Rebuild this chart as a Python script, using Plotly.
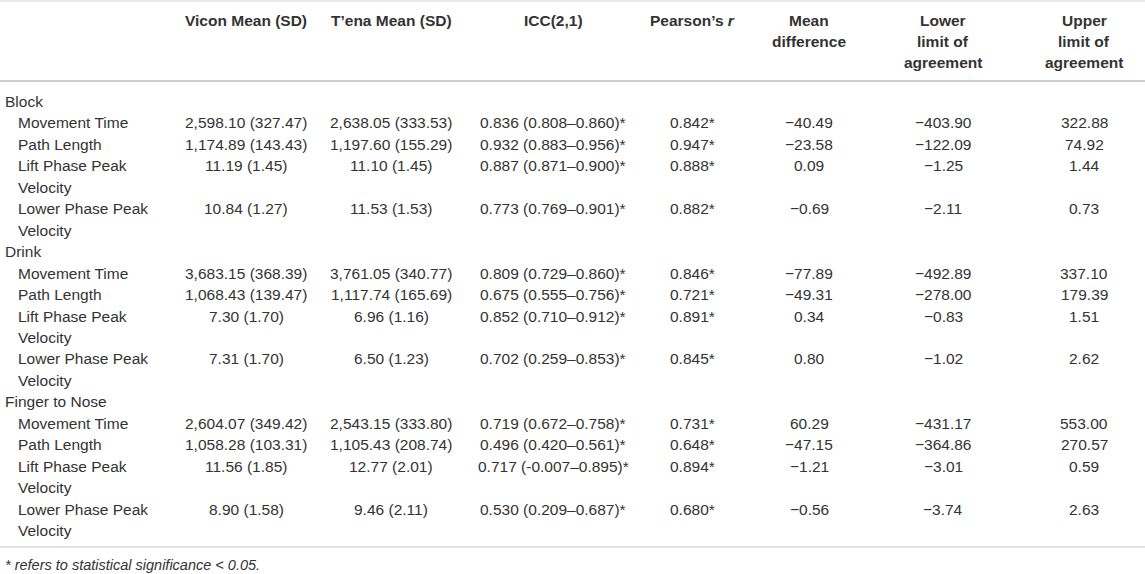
import plotly.graph_objects as go

# ---- table data ----
tasks = ["Block", "Drink", "Finger to Nose"]
measures = ["Movement Time", "Path Length", "Lift Phase Peak Velocity", "Lower Phase Peak Velocity"]

headers = ["Vicon Mean (SD)", "T\u2019ena Mean (SD)", "ICC(2,1)", "Pearson\u2019s <i>r</i>",
           "Mean<br>difference", "Lower<br>limit of<br>agreement", "Upper<br>limit of<br>agreement"]

vicon = ["2,598.10 (327.47)", "1,174.89 (143.43)", "11.19 (1.45)", "10.84 (1.27)",
         "3,683.15 (368.39)", "1,068.43 (139.47)", "7.30 (1.70)", "7.31 (1.70)",
         "2,604.07 (349.42)", "1,058.28 (103.31)", "11.56 (1.85)", "8.90 (1.58)"]
tena = ["2,638.05 (333.53)", "1,197.60 (155.29)", "11.10 (1.45)", "11.53 (1.53)",
        "3,761.05 (340.77)", "1,117.74 (165.69)", "6.96 (1.16)", "6.50 (1.23)",
        "2,543.15 (333.80)", "1,105.43 (208.74)", "12.77 (2.01)", "9.46 (2.11)"]
icc = ["0.836 (0.808\u20130.860)*", "0.932 (0.883\u20130.956)*", "0.887 (0.871\u20130.900)*", "0.773 (0.769\u20130.901)*",
       "0.809 (0.729\u20130.860)*", "0.675 (0.555\u20130.756)*", "0.852 (0.710\u20130.912)*", "0.702 (0.259\u20130.853)*",
       "0.719 (0.672\u20130.758)*", "0.496 (0.420\u20130.561)*", "0.717 (-0.007\u20130.895)*", "0.530 (0.209\u20130.687)*"]
pearson = ["0.842*", "0.947*", "0.888*", "0.882*",
           "0.846*", "0.721*", "0.891*", "0.845*",
           "0.731*", "0.648*", "0.894*", "0.680*"]
mean_diff = ["\u221240.49", "\u221223.58", "0.09", "\u22120.69",
             "\u221277.89", "\u221249.31", "0.34", "0.80",
             "60.29", "\u221247.15", "\u22121.21", "\u22120.56"]
lower_loa = ["\u2212403.90", "\u2212122.09", "\u22121.25", "\u22122.11",
             "\u2212492.89", "\u2212278.00", "\u22120.83", "\u22121.02",
             "\u2212431.17", "\u2212364.86", "\u22123.01", "\u22123.74"]
upper_loa = ["322.88", "74.92", "1.44", "0.73",
             "337.10", "179.39", "1.51", "2.62",
             "553.00", "270.57", "0.59", "2.63"]

footnote = "* refers to statistical significance < 0.05."

# ---- layout ----
W, H = 1145, 574
col_x = [246, 391, 553, 692, 809, 943, 1084]
head_y0, head_dy = 20, 21
body_y0, row_h = 101.5, 21.45
txt = "#333333"
fnt = "Liberation Sans, Arial, sans-serif"
fs = 15.5

columns = [vicon, tena, icc, pearson, mean_diff, lower_loa, upper_loa]

ann = []

def add(x, y, s, anchor="center", bold=False, italic=False, size=fs):
    if bold:
        s = "<b>" + s + "</b>"
    if italic:
        s = "<i>" + s + "</i>"
    ann.append(dict(x=x, y=y, xref="x", yref="y", text=s, showarrow=False,
                    xanchor=anchor, yanchor="middle",
                    font=dict(family=fnt, size=size, color=txt)))

# header
for cx, h in zip(col_x, headers):
    for k, part in enumerate(h.split("<br>")):
        add(cx, head_y0 + k * head_dy, part, bold=True)

# body
line = 0
for t, task in enumerate(tasks):
    add(3, body_y0 + line * row_h, task, anchor="left")
    line += 1
    for m, meas in enumerate(measures):
        i = t * len(measures) + m
        y = body_y0 + line * row_h
        words = meas.split(" ")
        if len(words) > 3:
            add(16, y, " ".join(words[:3]), anchor="left")
            add(16, y + row_h, " ".join(words[3:]), anchor="left")
            nl = 2
        else:
            add(16, y, meas, anchor="left")
            nl = 1
        for cx, col in zip(col_x, columns):
            add(cx, y, col[i])
        line += nl

add(3, 565, footnote, anchor="left", italic=True, size=14.5)

fig = go.Figure()
fig.add_trace(go.Scatter(x=[0, W], y=[0, H], mode="markers",
                         marker=dict(opacity=0), hoverinfo="skip", showlegend=False))

shapes = [
    dict(type="line", x0=0, x1=W, y0=1, y1=1, xref="x", yref="y",
         line=dict(color="#e2e2e2", width=1.5)),
    dict(type="line", x0=0, x1=W, y0=81, y1=81, xref="x", yref="y",
         line=dict(color="#cfcfcf", width=2)),
    dict(type="line", x0=0, x1=W, y0=547, y1=547, xref="x", yref="y",
         line=dict(color="#d8d8d8", width=1.5)),
]

fig.update_layout(
    width=W, height=H,
    margin=dict(l=0, r=0, t=0, b=0),
    paper_bgcolor="white", plot_bgcolor="white",
    xaxis=dict(range=[0, W], visible=False, fixedrange=True),
    yaxis=dict(range=[H, 0], visible=False, fixedrange=True),
    annotations=ann,
    shapes=shapes,
    showlegend=False,
)

# page has a default 8px body margin; drop it so the table sits at the corner
fig.write_html("out.html", config={"displayModeBar": False},
               post_script="document.body.style.margin='0';document.body.style.overflow='hidden';")
